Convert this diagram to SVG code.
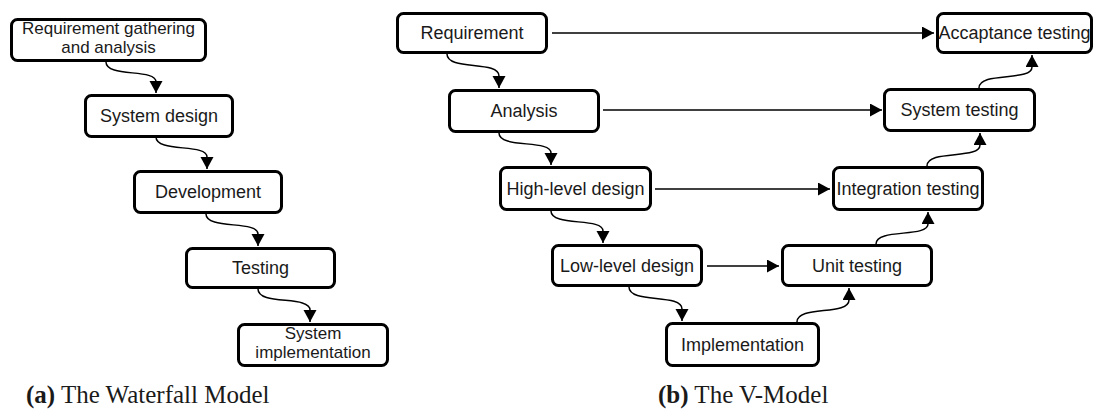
<svg xmlns="http://www.w3.org/2000/svg" width="1094" height="410" viewBox="0 0 1094 410">
  <defs>
    <style>
      .box { fill: #ffffff; stroke: #000000; stroke-width: 3; }
      .lbl { font-family: "Liberation Sans", Arial, sans-serif; font-size: 18px; fill: #1a1a1a; text-anchor: middle; }
      .lbl2 { font-size: 17px; }
      .edge { fill: none; stroke: #000000; stroke-width: 1.5; marker-end: url(#arr); }
      .cap { font-family: "Liberation Serif", "Times New Roman", serif; font-size: 25px; fill: #1a1a1a; }
      .cap .b { font-weight: bold; }
    </style>
    <marker id="arr" markerUnits="userSpaceOnUse" markerWidth="14" markerHeight="14" refX="12" refY="6.5" orient="auto">
      <path d="M0,0 L12,6.5 L0,13 Z" fill="#000000"/>
    </marker>
  </defs>

  <!-- Waterfall model -->
  <g id="wf-requirement">
    <rect class="box" x="11.5" y="19.5" width="194" height="41" rx="6"/>
    <text class="lbl lbl2" x="108.5" y="33.5">Requirement gathering</text>
    <text class="lbl lbl2" x="108.5" y="52.5">and analysis</text>
  </g>
  <g id="wf-system-design">
    <rect class="box" x="85.5" y="95.5" width="147" height="41" rx="6"/>
    <text class="lbl" x="159" y="121.5">System design</text>
  </g>
  <g id="wf-development">
    <rect class="box" x="134.5" y="171.5" width="147" height="41" rx="6"/>
    <text class="lbl" x="208" y="198">Development</text>
  </g>
  <g id="wf-testing">
    <rect class="box" x="186.5" y="248.5" width="148" height="39" rx="6"/>
    <text class="lbl" x="260.5" y="274">Testing</text>
  </g>
  <g id="wf-implementation">
    <rect class="box" x="238.5" y="324.5" width="149" height="41" rx="6"/>
    <text class="lbl lbl2" x="313" y="338.5">System</text>
    <text class="lbl lbl2" x="313" y="357.5">implementation</text>
  </g>

  <!-- V-model, left arm -->
  <g id="v-requirement">
    <rect class="box" x="397.5" y="13.5" width="149" height="39" rx="6"/>
    <text class="lbl" x="472" y="39">Requirement</text>
  </g>
  <g id="v-analysis">
    <rect class="box" x="449.5" y="90.5" width="149" height="41" rx="6"/>
    <text class="lbl" x="524" y="117">Analysis</text>
  </g>
  <g id="v-high-level">
    <rect class="box" x="500.5" y="167.5" width="150" height="42" rx="6"/>
    <text class="lbl" x="575.5" y="194.5">High-level design</text>
  </g>
  <g id="v-low-level">
    <rect class="box" x="552.5" y="245.5" width="149" height="40" rx="6"/>
    <text class="lbl" x="627" y="271.5">Low-level design</text>
  </g>
  <g id="v-implementation">
    <rect class="box" x="666.5" y="323.5" width="152" height="42" rx="6"/>
    <text class="lbl" x="742.5" y="350.5">Implementation</text>
  </g>

  <!-- V-model, right arm -->
  <g id="v-unit">
    <rect class="box" x="782.5" y="245.5" width="149" height="40" rx="6"/>
    <text class="lbl" x="857" y="271.5">Unit testing</text>
  </g>
  <g id="v-integration">
    <rect class="box" x="833.5" y="167.5" width="149" height="42" rx="6"/>
    <text class="lbl" x="908" y="194.5">Integration testing</text>
  </g>
  <g id="v-system">
    <rect class="box" x="884.5" y="89.5" width="150" height="41" rx="6"/>
    <text class="lbl" x="959.5" y="116">System testing</text>
  </g>
  <g id="v-acceptance">
    <rect class="box" x="937.5" y="13.5" width="154" height="39" rx="6"/>
    <text class="lbl" x="1014.5" y="39">Accaptance testing</text>
  </g>

  <!-- Connectors -->
  <g id="connectors">
    <!-- waterfall steps -->
    <path class="edge" d="M106,62 C106,78 156,68 156,82 L156,93"/>
    <path class="edge" d="M156,137 C156,153 207,143 207,157 L207,169"/>
    <path class="edge" d="M206,214 C206,230 258,220 258,234 L258,246"/>
    <path class="edge" d="M258,289 C258,306 310,295 310,310 L310,322"/>
    <!-- V-model descending arm -->
    <path class="edge" d="M447,54 C447,71 499,60 499,76 L499,88"/>
    <path class="edge" d="M499,133 C499,149 551,139 551,153 L551,165"/>
    <path class="edge" d="M551,211 C551,227 603,217 603,231 L603,243"/>
    <path class="edge" d="M629,287 C629,304 682,293 682,309 L682,321"/>
    <!-- V-model ascending arm -->
    <path class="edge" d="M797,322 C797,305 849,316 849,300 L849,288"/>
    <path class="edge" d="M876,244 C876,228 928,238 928,224 L928,212"/>
    <path class="edge" d="M927,166 C927,149 980,160 980,145 L980,133"/>
    <path class="edge" d="M979,88 C979,71 1032,82 1032,67 L1032,55"/>
    <!-- verification links -->
    <path class="edge" d="M552,33 L934,33"/>
    <path class="edge" d="M603,110 L882,110"/>
    <path class="edge" d="M655,189 L830,189"/>
    <path class="edge" d="M707,266 L779,266"/>
  </g>

  <!-- Captions -->
  <text class="cap" x="26" y="403"><tspan class="b">(a)</tspan> The Waterfall Model</text>
  <text class="cap" x="658" y="403"><tspan class="b">(b)</tspan> The V-Model</text>
</svg>
